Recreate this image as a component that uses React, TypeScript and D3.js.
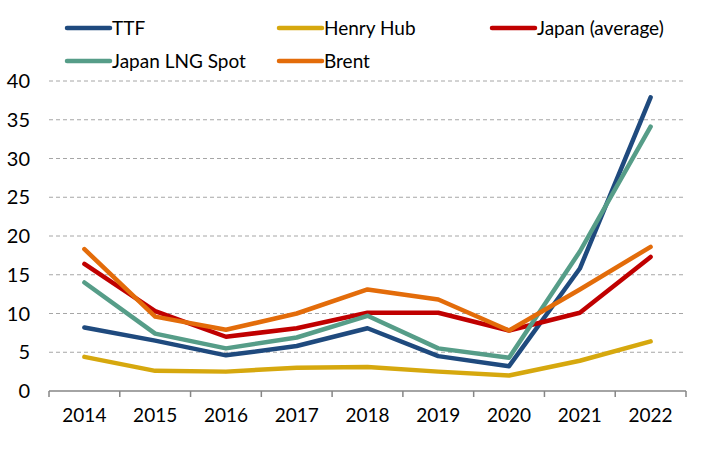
import * as d3 from "d3";

const years = ["2014", "2015", "2016", "2017", "2018", "2019", "2020", "2021", "2022"];
const ttf = [8.2, 6.5, 4.6, 5.8, 8.1, 4.5, 3.2, 15.8, 37.9];
const henryHub = [4.4, 2.6, 2.5, 3.0, 3.1, 2.5, 2.0, 3.9, 6.4];
const japanAvg = [16.4, 10.3, 7.0, 8.1, 10.1, 10.1, 7.8, 10.1, 17.3];
const japanLng = [14.0, 7.4, 5.5, 6.9, 9.7, 5.5, 4.3, 18.0, 34.1];
const brent = [18.3, 9.6, 7.9, 10.0, 13.1, 11.8, 7.8, 13.1, 18.6];
const yTicks = [0, 5, 10, 15, 20, 25, 30, 35, 40];

const series = [
  { name: "TTF", values: ttf, color: "#1f4a7e" },
  { name: "Henry Hub", values: henryHub, color: "#d6a80e" },
  { name: "Japan (average)", values: japanAvg, color: "#c00000" },
  { name: "Japan LNG Spot", values: japanLng, color: "#569d88" },
  { name: "Brent", values: brent, color: "#e36c0a" },
];

const W = 709;
const H = 460;
const font = "Lato, 'DejaVu Sans Condensed', Arial, sans-serif";

export default function App() {
  const x = d3.scaleBand<string>().domain(years).range([49, 686]);
  const y = d3.scaleLinear().domain([0, 40]).range([391, 81]);
  const cx = (i: number) => (x(years[i]) ?? 0) + x.bandwidth() / 2;

  const line = d3
    .line<number>()
    .x((_, i) => cx(i))
    .y((d) => y(d));

  // legend slots: left x of sample line, row centre
  const legendPos = [
    { lx: 67, ly: 28 },
    { lx: 279, ly: 28 },
    { lx: 492, ly: 28 },
    { lx: 67, ly: 61 },
    { lx: 279, ly: 61 },
  ];

  return (
    <svg width={W} height={H} style={{ position: "absolute", left: 0, top: 0, background: "#fff" }}>
      {/* gridlines */}
      {yTicks
        .filter((t) => t > 0)
        .map((t) => (
          <line
            key={t}
            x1={49}
            x2={686}
            y1={y(t)}
            y2={y(t)}
            stroke="#a6a6a6"
            strokeWidth={1}
            strokeDasharray="4,3"
          />
        ))}

      {/* y labels */}
      {yTicks.map((t) => (
        <text
          key={t}
          x={30}
          y={y(t)}
          dy="0.35em"
          textAnchor="end"
          fontFamily={font}
          fontSize={20}
          fill="#000"
        >
          {t}
        </text>
      ))}

      {/* x axis */}
      <line x1={49} x2={686} y1={391} y2={391} stroke="#868686" strokeWidth={1.5} />
      {years.map((yr) => (
        <line
          key={"t" + yr}
          x1={x(yr) ?? 0}
          x2={x(yr) ?? 0}
          y1={391}
          y2={397}
          stroke="#868686"
          strokeWidth={1.5}
        />
      ))}
      <line x1={686} x2={686} y1={391} y2={397} stroke="#868686" strokeWidth={1.5} />
      {years.map((yr, i) => (
        <text
          key={"l" + yr}
          x={cx(i)}
          y={422}
          textAnchor="middle"
          fontFamily={font}
          fontSize={19}
          fill="#000"
        >
          {yr}
        </text>
      ))}

      {/* lines */}
      {series.map((s) => (
        <path
          key={s.name}
          d={line(s.values) ?? ""}
          fill="none"
          stroke={s.color}
          strokeWidth={4.5}
          strokeLinejoin="round"
          strokeLinecap="round"
        />
      ))}

      {/* legend */}
      {series.map((s, i) => (
        <g key={"lg" + s.name}>
          <line
            x1={legendPos[i].lx}
            x2={legendPos[i].lx + 43}
            y1={legendPos[i].ly}
            y2={legendPos[i].ly}
            stroke={s.color}
            strokeWidth={4.5}
            strokeLinecap="round"
          />
          <text
            x={legendPos[i].lx + 45}
            y={legendPos[i].ly}
            dy="0.35em"
            fontFamily={font}
            fontSize={19}
            fill="#000"
          >
            {s.name}
          </text>
        </g>
      ))}
    </svg>
  );
}
